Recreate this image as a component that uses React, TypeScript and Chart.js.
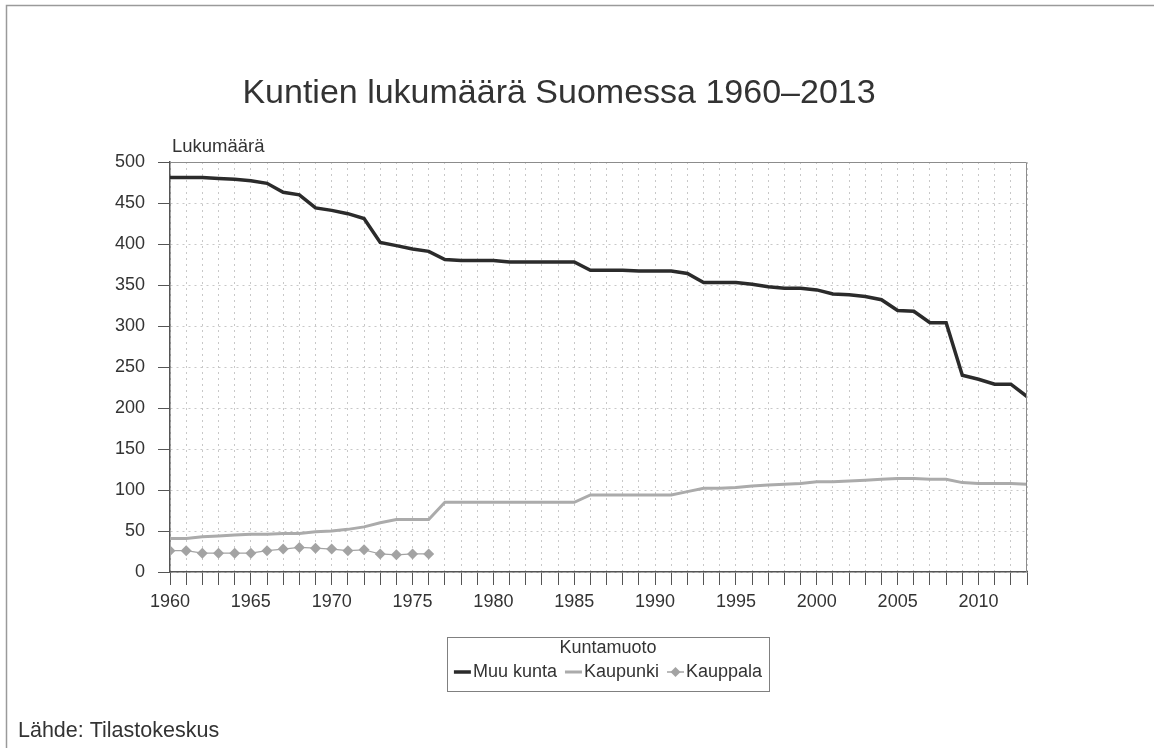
import { useEffect, useRef } from "react";
import { Chart, registerables } from "chart.js";

Chart.register(...registerables);

const chartTitle = "Kuntien lukumäärä Suomessa 1960–2013";
const yAxisTitle = "Lukumäärä";
const sourceText = "Lähde: Tilastokeskus";
const legendTitle = "Kuntamuoto";
const seriesNames = ["Muu kunta", "Kaupunki", "Kauppala"];

const years = [
  1960, 1961, 1962, 1963, 1964, 1965, 1966, 1967, 1968, 1969,
  1970, 1971, 1972, 1973, 1974, 1975, 1976, 1977, 1978, 1979,
  1980, 1981, 1982, 1983, 1984, 1985, 1986, 1987, 1988, 1989,
  1990, 1991, 1992, 1993, 1994, 1995, 1996, 1997, 1998, 1999,
  2000, 2001, 2002, 2003, 2004, 2005, 2006, 2007, 2008, 2009,
  2010, 2011, 2012, 2013,
];

const muuKunta = [
  481, 481, 481, 480, 479, 477, 474, 463, 460, 444,
  441, 437, 431, 402, 398, 394, 391, 381, 380, 380,
  380, 378, 378, 378, 378, 378, 368, 368, 368, 367,
  367, 367, 364, 353, 353, 353, 351, 348, 346, 346,
  344, 339, 338, 336, 332, 319, 318, 304, 304, 240,
  235, 229, 229, 214,
];

const kaupunki = [
  41, 41, 43, 44, 45, 46, 46, 47, 47, 49,
  50, 52, 55, 60, 64, 64, 64, 85, 85, 85,
  85, 85, 85, 85, 85, 85, 94, 94, 94, 94,
  94, 94, 98, 102, 102, 103, 105, 106, 107, 108,
  110, 110, 111, 112, 113, 114, 114, 113, 113, 109,
  108, 108, 108, 107,
];

const kauppalaYears = [
  1960, 1961, 1962, 1963, 1964, 1965, 1966, 1967, 1968,
  1969, 1970, 1971, 1972, 1973, 1974, 1975, 1976,
];
const kauppala = [26, 26, 23, 23, 23, 23, 26, 28, 30, 29, 28, 26, 27, 22, 21, 22, 22];

const xMin = 1960;
const xMax = 2013;
const xLabelStep = 5;
const yMin = 0;
const yMax = 500;
const yStep = 50;

const FONT = '"Liberation Sans", Arial, Helvetica, sans-serif';
const TEXT = "#333333";
const COLORS = ["#2b2b2b", "#ababab", "#a3a3a3"];

const decorPlugin = {
  id: "decor",
  beforeDraw(chart: any) {
    const ctx = chart.ctx;
    ctx.save();
    ctx.fillStyle = "#ffffff";
    ctx.fillRect(0, 0, chart.width, chart.height);
    ctx.restore();
  },
  afterDraw(chart: any) {
    const ctx = chart.ctx;
    const a = chart.chartArea;
    ctx.save();
    // outer frame (top & left)
    ctx.strokeStyle = "#9a9a9a";
    ctx.lineWidth = 1.5;
    ctx.beginPath();
    ctx.moveTo(6.5, chart.height);
    ctx.lineTo(6.5, 5.5);
    ctx.lineTo(chart.width, 5.5);
    ctx.stroke();

    // plot border top & right
    ctx.strokeStyle = "#8c8c8c";
    ctx.lineWidth = 1;
    ctx.beginPath();
    ctx.moveTo(a.left, a.top + 0.5);
    ctx.lineTo(a.right - 0.5, a.top + 0.5);
    ctx.lineTo(a.right - 0.5, a.bottom);
    ctx.stroke();

    // title
    ctx.fillStyle = TEXT;
    ctx.font = `34px ${FONT}`;
    ctx.textAlign = "center";
    ctx.textBaseline = "middle";
    ctx.fillText(chartTitle, 559, 94);

    // y axis title
    ctx.font = `18.5px ${FONT}`;
    ctx.textAlign = "left";
    ctx.fillText(yAxisTitle, 172, 147);

    // source
    ctx.font = `21.5px ${FONT}`;
    ctx.fillText(sourceText, 18, 731);

    // legend
    const boxL = 447, boxR = 769, boxT = 637, boxB = 691;
    ctx.strokeStyle = "#808080";
    ctx.lineWidth = 1;
    ctx.strokeRect(boxL + 0.5, boxT + 0.5, boxR - boxL, boxB - boxT);
    const cx = (boxL + boxR) / 2;
    ctx.font = `18px ${FONT}`;
    ctx.textAlign = "center";
    ctx.fillText(legendTitle, cx, 648);
    const sample = 17;
    const gapText = 2;
    const gapItem = 8;
    const widths = seriesNames.map((n) => ctx.measureText(n).width);
    const total = widths.reduce((s, w) => s + sample + gapText + w, 0) + gapItem * (seriesNames.length - 1);
    let x = cx - total / 2;
    const iy = 672;
    ctx.textAlign = "left";
    seriesNames.forEach((name, i) => {
      const ds = chart.data.datasets[i];
      ctx.strokeStyle = ds.borderColor;
      ctx.lineWidth = i === 2 ? 1.5 : ds.borderWidth;
      ctx.beginPath();
      ctx.moveTo(x, iy);
      ctx.lineTo(x + sample, iy);
      ctx.stroke();
      if (i === 2) {
        const mx = x + sample / 2;
        const r = 5;
        ctx.fillStyle = ds.backgroundColor;
        ctx.beginPath();
        ctx.moveTo(mx, iy - r);
        ctx.lineTo(mx + r, iy);
        ctx.lineTo(mx, iy + r);
        ctx.lineTo(mx - r, iy);
        ctx.closePath();
        ctx.fill();
      }
      ctx.fillStyle = TEXT;
      ctx.fillText(name, x + sample + gapText, iy);
      x += sample + gapText + widths[i] + gapItem;
    });
    ctx.restore();
  },
};

export default function App() {
  const canvasRef = useRef<HTMLCanvasElement | null>(null);

  useEffect(() => {
    if (!canvasRef.current) return;
    Chart.defaults.font.family = FONT;
    const chart = new Chart(canvasRef.current, {
      type: "line",
      data: {
        datasets: [
          {
            label: seriesNames[0],
            data: years.map((y, i) => ({ x: y, y: muuKunta[i] })),
            borderColor: COLORS[0],
            backgroundColor: COLORS[0],
            borderWidth: 3.5,
            pointRadius: 0,
            tension: 0,
          },
          {
            label: seriesNames[1],
            data: years.map((y, i) => ({ x: y, y: kaupunki[i] })),
            borderColor: COLORS[1],
            backgroundColor: COLORS[1],
            borderWidth: 3,
            pointRadius: 0,
            tension: 0,
          },
          {
            label: seriesNames[2],
            data: kauppalaYears.map((y, i) => ({ x: y, y: kauppala[i] })),
            borderColor: COLORS[2],
            backgroundColor: COLORS[2],
            borderWidth: 1.2,
            pointStyle: "rectRot",
            pointRadius: 5.5,
            pointBorderWidth: 0,
            pointBackgroundColor: COLORS[2],
            tension: 0,
          },
        ],
      },
      options: {
        responsive: false,
        animation: false,
        devicePixelRatio: 1,
        layout: { padding: { top: 162, right: 127, bottom: 0, left: 0 } },
        plugins: {
          legend: { display: false },
          title: { display: false },
          tooltip: { enabled: false },
        },
        scales: {
          x: {
            type: "linear",
            min: xMin,
            max: xMax,
            afterFit: (s: any) => {
              s.height = 176;
            },
            ticks: {
              stepSize: 1,
              maxTicksLimit: 200,
              autoSkip: false,
              maxRotation: 0,
              minRotation: 0,
              padding: 6,
              color: TEXT,
              font: { size: 18, family: FONT },
              callback: (v: any) => (Number(v) % xLabelStep === 0 ? String(v) : ""),
            },
            grid: {
              color: "#c8c8c8",
              lineWidth: 1,
              tickColor: "#555555",
              tickLength: 13,
              tickWidth: 1,
              tickBorderDash: [],
            },
            border: { color: "#555555", width: 1.5, dash: [2, 4] },
          },
          y: {
            min: yMin,
            max: yMax,
            afterFit: (s: any) => {
              s.width = 170;
            },
            ticks: {
              stepSize: yStep,
              padding: 13,
              color: TEXT,
              font: { size: 18, family: FONT },
            },
            grid: {
              color: "#c8c8c8",
              lineWidth: 1,
              tickColor: "#555555",
              tickLength: 12,
              tickWidth: 1,
              tickBorderDash: [],
            },
            border: { color: "#555555", width: 1.5, dash: [2, 4] },
          },
        },
      },
      plugins: [decorPlugin],
    });
    return () => chart.destroy();
  }, []);

  return (
    <div style={{ position: "absolute", left: 0, top: 0, width: 1154, height: 748, background: "#fff" }}>
      <canvas ref={canvasRef} width={1154} height={748} />
    </div>
  );
}
